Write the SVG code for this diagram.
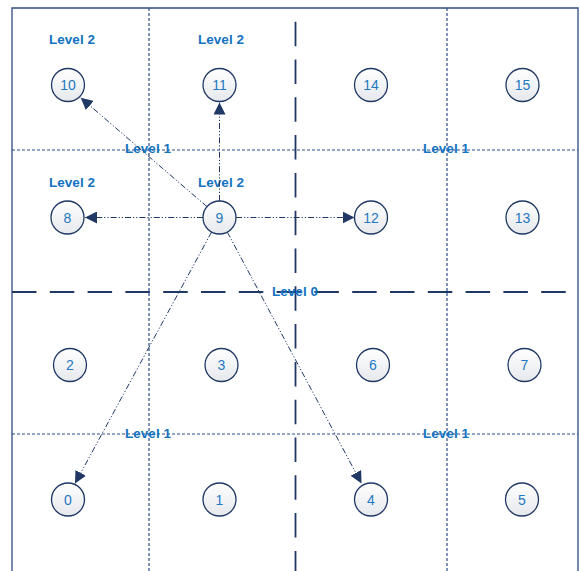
<svg xmlns="http://www.w3.org/2000/svg" width="580" height="571" viewBox="0 0 580 571">
<defs>
<linearGradient id="nodeFill" x1="0" y1="0" x2="0" y2="1">
<stop offset="0" stop-color="#ffffff"/>
<stop offset="1" stop-color="#e6e8ec"/>
</linearGradient>
<marker id="arr" markerUnits="userSpaceOnUse" markerWidth="12" markerHeight="12" viewBox="0 0 11 11" refX="11" refY="5.5" orient="auto">
<path d="M0,0 L11,5.5 L0,11 z" fill="#1F3864"/>
</marker>
<style>
.border{stroke:#2F4A80;stroke-width:1.3;fill:none}
.thin{stroke:#2B4A88;stroke-width:1.2;stroke-dasharray:3 2;fill:none}
.thick{stroke:#1F3864;stroke-width:1.8;stroke-dasharray:24.5 13.3;fill:none}
.conn{stroke:#1F3864;stroke-width:1;stroke-dasharray:6 2 1.2 2 1.2 2;fill:none;marker-end:url(#arr)}
.node circle{fill:url(#nodeFill);stroke:#1F3864;stroke-width:1.3}
.node text{font-family:"Liberation Sans",Arial,sans-serif;font-size:14px;fill:#1E78C2;text-anchor:middle}
.lbl{font-family:"Liberation Sans",Arial,sans-serif;font-size:13.5px;font-weight:bold;fill:#1473C0;text-anchor:middle}
</style>
</defs>
<g id="grid">
<path class="border" d="M12,571 V8 H578 V571"/>
<line class="thin" x1="149" y1="8" x2="149" y2="571"/>
<line class="thin" x1="447" y1="8" x2="447" y2="571"/>
<line class="thin" x1="12" y1="150" x2="578" y2="150"/>
<line class="thin" x1="12" y1="434" x2="578" y2="434"/>
<line class="thick" x1="295.5" y1="21.7" x2="295.5" y2="571"/>
<line class="thick" x1="12" y1="292" x2="578" y2="292"/>
</g>
<g id="labels">
<text class="lbl" x="72" y="44">Level 2</text>
<text class="lbl" x="221" y="44">Level 2</text>
<text class="lbl" x="72" y="186.5">Level 2</text>
<text class="lbl" x="221" y="186.5">Level 2</text>
<text class="lbl" x="148" y="153">Level 1</text>
<text class="lbl" x="446" y="153">Level 1</text>
<text class="lbl" x="148" y="438">Level 1</text>
<text class="lbl" x="446" y="438">Level 1</text>
<text class="lbl" x="295" y="296">Level 0</text>
</g>
<g id="connectors">
<line class="conn" x1="207" y1="206.7" x2="80.7" y2="97.7"/>
<line class="conn" x1="219.5" y1="201" x2="219.5" y2="102.5"/>
<line class="conn" x1="203" y1="217.5" x2="85" y2="217.5"/>
<line class="conn" x1="236" y1="217.5" x2="354.5" y2="217.5"/>
<line class="conn" x1="211.6" y1="232" x2="75" y2="483.5"/>
<line class="conn" x1="227.3" y1="232.1" x2="361.5" y2="483.5"/>
</g>
<g id="n10" class="node"><circle cx="68" cy="85" r="16.5"/><text x="68" y="90">10</text></g>
<g id="n11" class="node"><circle cx="219.5" cy="85" r="16.5"/><text x="219.5" y="90">11</text></g>
<g id="n14" class="node"><circle cx="371" cy="85" r="16.5"/><text x="371" y="90">14</text></g>
<g id="n15" class="node"><circle cx="522.5" cy="85" r="16.5"/><text x="522.5" y="90">15</text></g>
<g id="n8" class="node"><circle cx="67.5" cy="217.5" r="16.5"/><text x="67.5" y="222.5">8</text></g>
<g id="n9" class="node"><circle cx="219.5" cy="217.5" r="16.5"/><text x="219.5" y="222.5">9</text></g>
<g id="n12" class="node"><circle cx="371" cy="217.5" r="16.5"/><text x="371" y="222.5">12</text></g>
<g id="n13" class="node"><circle cx="522.5" cy="217.5" r="16.5"/><text x="522.5" y="222.5">13</text></g>
<g id="n2" class="node"><circle cx="70" cy="365" r="16.5"/><text x="70" y="370">2</text></g>
<g id="n3" class="node"><circle cx="221.5" cy="365" r="16.5"/><text x="221.5" y="370">3</text></g>
<g id="n6" class="node"><circle cx="373" cy="365" r="16.5"/><text x="373" y="370">6</text></g>
<g id="n7" class="node"><circle cx="524.5" cy="365" r="16.5"/><text x="524.5" y="370">7</text></g>
<g id="n0" class="node"><circle cx="68" cy="499.5" r="16.5"/><text x="68" y="504.5">0</text></g>
<g id="n1" class="node"><circle cx="219.5" cy="499.5" r="16.5"/><text x="219.5" y="504.5">1</text></g>
<g id="n4" class="node"><circle cx="371" cy="499.5" r="16.5"/><text x="371" y="504.5">4</text></g>
<g id="n5" class="node"><circle cx="522" cy="499.5" r="16.5"/><text x="522" y="504.5">5</text></g>
</svg>
